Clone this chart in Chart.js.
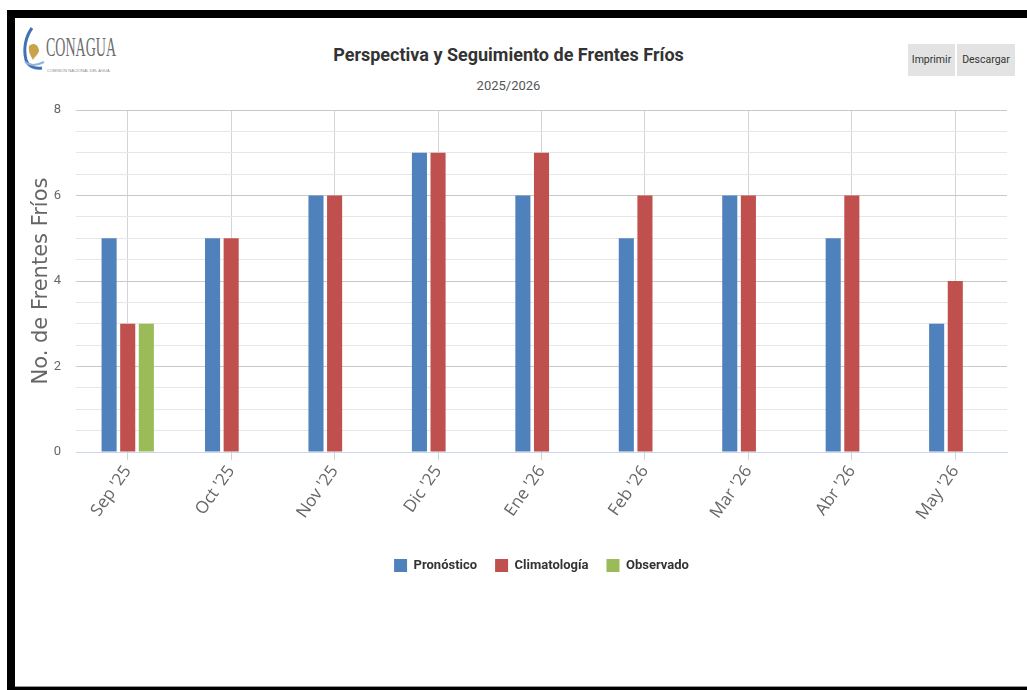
<!DOCTYPE html>
<html lang="es">
<head>
  <meta charset="UTF-8">
  <meta name="viewport" content="width=device-width, initial-scale=1.0">
  <title>Perspectiva y Seguimiento de Frentes Fríos</title>
  <script src="https://cdn.jsdelivr.net/npm/chart.js@4.4.1/dist/chart.umd.min.js"></script>
  <style>
    body {
      margin: 0;
      width: 1027px;
      height: 690px;
      background: #fff;
      position: relative;
      overflow: hidden;
      font-family: Roboto, 'Liberation Sans', sans-serif;
    }

    /* black frame of the screenshot */
    .frame-top { position: absolute; left: 7px; top: 10px; width: 1020px; height: 8px; background: #000; }
    .frame-left { position: absolute; left: 7px; top: 10px; width: 8px; height: 680px; background: #000; }
    .frame-bottom { position: absolute; left: 15px; top: 686px; width: 1012px; height: 4px; background: #000; border-top: 1px solid #999; }

    .logo { position: absolute; left: 20px; top: 26px; width: 110px; height: 44px; }
    .logo svg { position: absolute; left: 0; top: 0; }
    .logo .name {
      position: absolute; left: 26px; top: 5px;
      font-family: 'Liberation Serif', serif; font-size: 28px; color: #6d6d6d;
      transform: scaleX(0.5); transform-origin: left top;
    }
    .logo .sub {
      position: absolute; left: 27px; top: 42px;
      font-family: 'Liberation Sans', sans-serif; font-size: 4px; color: #8a8a8a; white-space: nowrap;
    }

    .head { position: absolute; left: 0; width: 1017px; text-align: center; }
    #title { top: 44px; line-height: 22px; font-size: 18px; font-weight: bold; color: #333; }
    #subtitle { top: 78px; line-height: 16px; font-size: 13px; color: #555; }

    .btn {
      position: absolute; top: 44px; height: 32px; line-height: 32px;
      background: #e3e3e3; color: #333; font-size: 10.5px; text-align: center;
    }
    #btnPrint { left: 908px; width: 47px; }
    #btnDown { left: 957px; width: 58px; }

    #chartBox { position: absolute; left: 15px; top: 18px; width: 1012px; height: 572px; }
  </style>
</head>
<body>
<div class="frame-top"></div>
<div class="frame-left"></div>
<div class="frame-bottom"></div>

<div class="logo">
  <svg width="26" height="44" viewBox="0 0 26 44">
    <path d="M12 2 C6 10, 3 22, 6 34 C8 40, 14 43, 22 42" fill="none" stroke="#3f73b4" stroke-width="3"/>
    <path d="M9 20 C13 16, 18 18, 19 24 C19 28, 15 30, 13 34 C11 30, 8 26, 9 20 Z" fill="#c9a24a"/>
    <path d="M5 36 C10 40, 16 40, 24 36" fill="none" stroke="#8fb3dd" stroke-width="2"/>
  </svg>
  <div class="name">CONAGUA</div>
  <div class="sub">COMISIÓN NACIONAL DEL AGUA</div>
</div>

<div class="head" id="title">Perspectiva y Seguimiento de Frentes Fríos</div>
<div class="head" id="subtitle">2025/2026</div>

<div class="btn" id="btnPrint">Imprimir</div>
<div class="btn" id="btnDown">Descargar</div>

<div id="chartBox"><canvas id="frentes"></canvas></div>

<script>
  // categories and series
  const months = ["Sep '25", "Oct '25", "Nov '25", "Dic '25", "Ene '26", "Feb '26", "Mar '26", "Abr '26", "May '26"];
  const pronostico = [5, 5, 6, 7, 6, 5, 6, 5, 3];
  const climatologia = [3, 5, 6, 7, 7, 6, 6, 6, 4];
  const observado = [3, null, null, null, null, null, null, null, null];

  const roboto = "Roboto, 'Liberation Sans', sans-serif";

  function makeSet(label, data, color) {
    return {
      label: label,
      data: data,
      backgroundColor: color,
      borderWidth: 0,
      categoryPercentage: 0.54,
      barPercentage: 0.81
    };
  }

  const ctx = document.getElementById('frentes').getContext('2d');
  new Chart(ctx, {
    type: 'bar',
    data: {
      labels: months,
      datasets: [
        makeSet('Pronóstico', pronostico, '#4f81bd'),
        makeSet('Climatología', climatologia, '#c0504d'),
        makeSet('Observado', observado, '#9bbb59')
      ]
    },
    options: {
      responsive: true,
      maintainAspectRatio: false,
      animation: false,
      layout: { padding: { left: 10, right: 20, top: 92, bottom: 8 } },
      plugins: {
        legend: {
          position: 'bottom',
          fullSize: false,
          labels: {
            boxWidth: 13,
            boxHeight: 13,
            padding: 18,
            color: '#333',
            font: { family: roboto, size: 13, weight: 'bold' }
          }
        },
        tooltip: { enabled: false }
      },
      scales: {
        x: {
          afterFit: (s) => { s.height = 89; },
          grid: { color: '#d4d4d4', offset: false, drawTicks: true, tickLength: 8 },
          border: { color: '#ccd6eb' },
          ticks: {
            minRotation: 55,
            maxRotation: 55,
            color: '#666',
            padding: 2,
            font: { family: "'Open Sans', sans-serif", size: 17 }
          }
        },
        y: {
          min: 0,
          max: 8,
          afterFit: (s) => { s.width = 51; },
          border: { display: false },
          grid: {
            drawTicks: false,
            color: (c) => (c.tick && c.tick.value % 2 === 0) ? '#c8c8c8' : '#e6e6e6'
          },
          ticks: {
            stepSize: 0.5,
            autoSkip: false,
            padding: 15,
            color: '#666',
            font: { family: roboto, size: 13 },
            callback: (v) => (v % 2 === 0 ? v : '')
          },
          title: {
            display: true,
            text: 'No. de Frentes Fríos',
            color: '#666',
            font: { family: "'DejaVu Sans', sans-serif", size: 21 },
            padding: { top: 4, bottom: 0 }
          }
        }
      }
    }
  });
</script>
</body>
</html>
